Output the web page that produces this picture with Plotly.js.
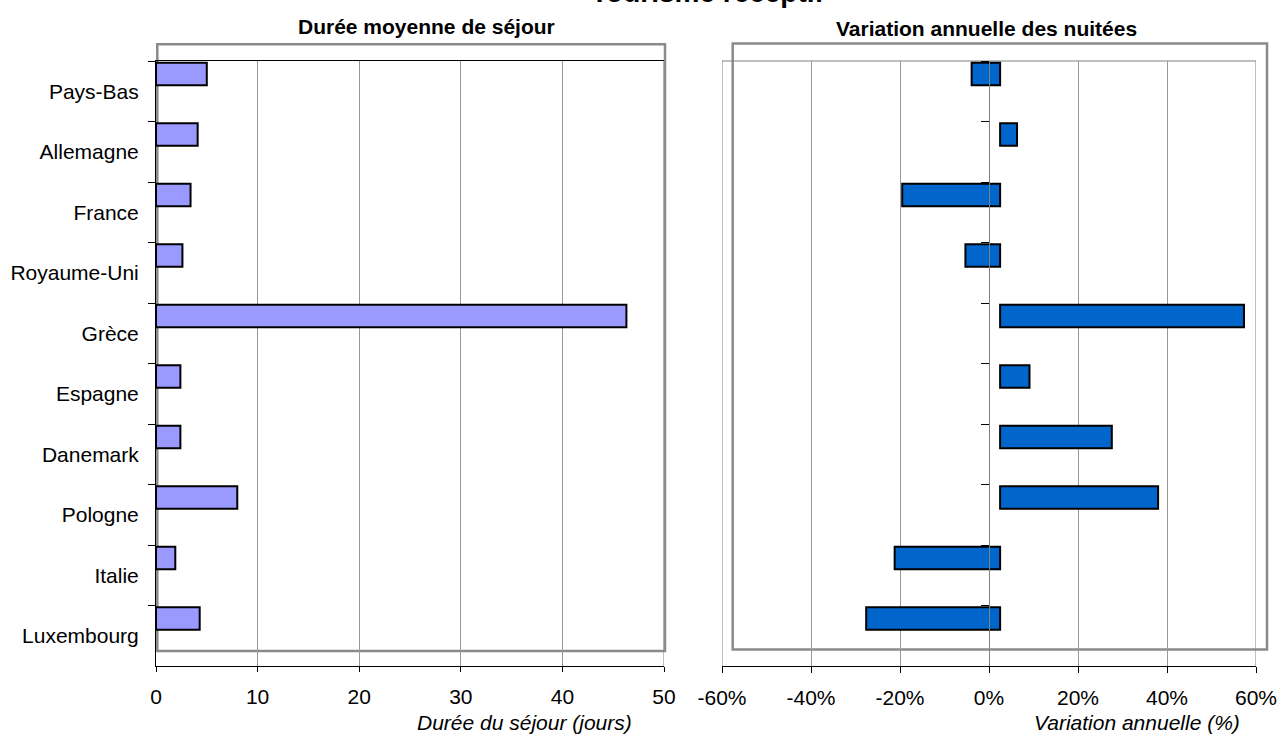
<!DOCTYPE html>
<html>
<head>
<meta charset="utf-8">
<script src="https://cdn.plot.ly/plotly-3.0.1.min.js"></script>
<style>
html,body{margin:0;padding:0;background:#fff;}
#chart{width:1278px;height:740px;}
</style>
</head>
<body>
<div id="chart"></div>
<script>
// ---- data ----
const categories = ['Pays-Bas','Allemagne','France','Royaume-Uni','Grèce','Espagne','Danemark','Pologne','Italie','Luxembourg'];
const dureeJours = [5.0, 4.1, 3.4, 2.6, 46.3, 2.4, 2.4, 8.0, 1.9, 4.3];
const variationPct = [-3.9, 6.3, -19.5, -5.3, 57.3, 9.1, 27.6, 38.0, -21.2, -27.6];
const variationBase = 2.5; // bars start from this crossing value
const dureeTicks = [0, 10, 20, 30, 40, 50];
const variationTicks = [-60, -40, -20, 0, 20, 40, 60];
const variationTickLabels = ['-60%', '-40%', '-20%', '0%', '20%', '40%', '60%'];
const mainTitle = 'Tourisme réceptif';
const leftTitle = 'Durée moyenne de séjour';
const rightTitle = 'Variation annuelle des nuitées';
const leftAxisTitle = 'Durée du séjour (jours)';
const rightAxisTitle = 'Variation annuelle (%)';

// ---- layout helpers ----
const W = 1278, H = 740;
const px = v => v / W;
const py = v => 1 - v / H;
const FONT = 'Liberation Sans, Arial, Helvetica, sans-serif';

const traces = [
  {
    type: 'bar', orientation: 'h',
    y: categories, x: dureeJours,
    xaxis: 'x', yaxis: 'y',
    offset: -0.47, width: 0.37,
    marker: {color: '#9999FF', line: {color: '#000000', width: 2}},
    hoverinfo: 'x+y', showlegend: false
  },
  {
    type: 'bar', orientation: 'h',
    y: categories,
    x: variationPct.map(v => v - variationBase),
    base: variationBase,
    xaxis: 'x2', yaxis: 'y2',
    offset: -0.47, width: 0.37,
    marker: {color: '#0066CC', line: {color: '#000000', width: 2}},
    hoverinfo: 'y', showlegend: false
  }
];

const yDomain = [py(666), py(61)];

const layout = {
  width: W, height: H,
  margin: {l: 0, r: 0, t: 0, b: 0},
  paper_bgcolor: '#ffffff', plot_bgcolor: 'rgba(0,0,0,0)',
  font: {family: FONT, size: 21, color: '#000'},
  showlegend: false,
  bargap: 0,
  xaxis: {
    domain: [px(156), px(664)],
    range: [0, 50], fixedrange: true,
    tickvals: dureeTicks,
    showgrid: true, gridcolor: '#999999', gridwidth: 1,
    zeroline: false,
    showline: true, linecolor: '#000000', linewidth: 1, mirror: true,
    ticks: 'outside', ticklen: 5, tickcolor: '#000000',
    tickfont: {size: 21, family: FONT, color: '#000'},
    ticklabelstandoff: 7,
    anchor: 'y'
  },
  yaxis: {
    domain: yDomain,
    type: 'category', categoryorder: 'array', categoryarray: categories,
    range: [9.5, -0.5], fixedrange: true,
    showgrid: false, zeroline: false,
    showline: true, linecolor: '#000000', linewidth: 1,
    ticks: 'outside', ticklen: 7, tickcolor: '#000000', tickson: 'boundaries',
    tickfont: {size: 21, family: FONT, color: '#000'},
    ticklabelstandoff: 12,
    anchor: 'x'
  },
  xaxis2: {
    domain: [px(722), px(1256)],
    range: [-60, 60], fixedrange: true,
    tickvals: variationTicks, ticktext: variationTickLabels,
    showgrid: true, gridcolor: '#999999', gridwidth: 1,
    zeroline: false,
    showline: true, linecolor: '#000000', linewidth: 1,
    ticks: 'outside', ticklen: 6, tickcolor: '#000000',
    tickfont: {size: 21, family: FONT, color: '#000'},
    ticklabelstandoff: 7,
    anchor: 'y2'
  },
  yaxis2: {
    domain: yDomain,
    type: 'category', categoryorder: 'array', categoryarray: categories,
    range: [9.5, -0.5], fixedrange: true,
    anchor: 'free',
    position: px(988.8),
    side: 'left',
    showgrid: false, zeroline: false,
    showline: true, linecolor: '#808080', linewidth: 1,
    ticks: 'outside', ticklen: 8, tickcolor: '#000000', tickson: 'boundaries',
    showticklabels: false
  },
  shapes: [
    // outer frames around each panel
    {type: 'rect', xref: 'paper', yref: 'paper', layer: 'between',
     x0: px(157.3), x1: px(665), y0: py(651), y1: py(44.3),
     line: {color: '#8a8a8a', width: 2.5}},
    {type: 'rect', xref: 'paper', yref: 'paper', layer: 'between',
     x0: px(732.7), x1: px(1267), y0: py(649.5), y1: py(43.5),
     line: {color: '#8a8a8a', width: 2.5}},
    // plot area borders (right panel top/left/right, left panel right)
    {type: 'line', xref: 'paper', yref: 'paper', layer: 'between',
     x0: px(722), x1: px(1256), y0: py(61), y1: py(61),
     line: {color: '#808080', width: 1}},
    {type: 'line', xref: 'x2', yref: 'paper', layer: 'between',
     x0: -60, x1: -60, y0: yDomain[0], y1: yDomain[1],
     line: {color: '#808080', width: 1}},
    {type: 'line', xref: 'x2', yref: 'paper', layer: 'between',
     x0: 60, x1: 60, y0: yDomain[0], y1: yDomain[1],
     line: {color: '#808080', width: 1}},
    {type: 'line', xref: 'x', yref: 'paper', layer: 'between',
     x0: 50, x1: 50, y0: yDomain[0], y1: yDomain[1],
     line: {color: '#808080', width: 1}}
  ],
  annotations: [
    {text: '<b>' + mainTitle + '</b>', xref: 'paper', yref: 'paper',
     x: px(708), y: py(-8), xanchor: 'center', yanchor: 'middle', showarrow: false,
     font: {size: 28, family: FONT, color: '#000'}},
    {text: '<b>' + leftTitle + '</b>', xref: 'paper', yref: 'paper',
     x: px(426), y: py(27), xanchor: 'center', yanchor: 'middle', showarrow: false,
     font: {size: 21, family: FONT, color: '#000'}},
    {text: '<b>' + rightTitle + '</b>', xref: 'paper', yref: 'paper',
     x: px(986), y: py(28), xanchor: 'center', yanchor: 'middle', showarrow: false,
     font: {size: 21, family: FONT, color: '#000'}},
    {text: '<i>' + leftAxisTitle + '</i>', xref: 'paper', yref: 'paper',
     x: px(524), y: py(722), xanchor: 'center', yanchor: 'middle', showarrow: false,
     font: {size: 21, family: FONT, color: '#000'}},
    {text: '<i>' + rightAxisTitle + '</i>', xref: 'paper', yref: 'paper',
     x: px(1137), y: py(722), xanchor: 'center', yanchor: 'middle', showarrow: false,
     font: {size: 21, family: FONT, color: '#000'}}
  ]
};

Plotly.newPlot('chart', traces, layout, {displayModeBar: false, staticPlot: true});
</script>
</body>
</html>
